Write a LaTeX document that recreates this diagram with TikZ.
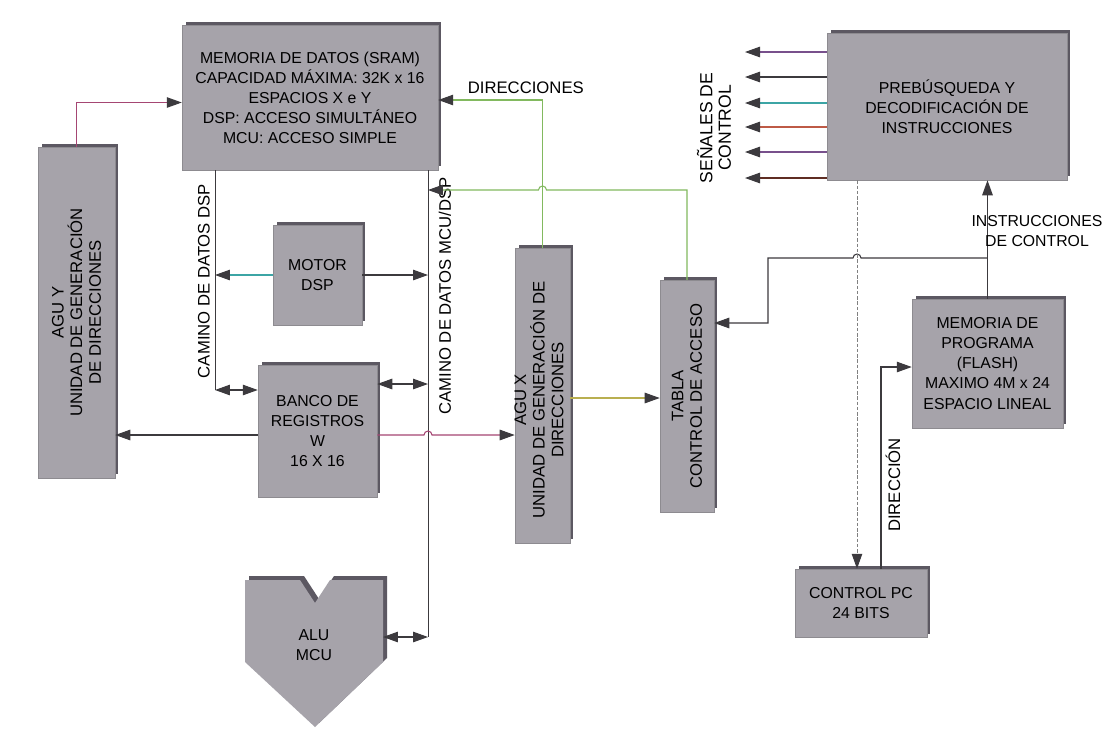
\documentclass[tikz,border=0pt]{standalone}
\usepackage{fontspec}
\setmainfont{Liberation Sans}
\usetikzlibrary{arrows.meta, positioning, calc, shadows}

\definecolor{blockgray}{RGB}{166,163,170}
\definecolor{blockedge}{RGB}{92,88,98}
\definecolor{linegray}{RGB}{60,58,62}
\definecolor{wirepink}{RGB}{165,70,115}
\definecolor{wiregreen}{RGB}{130,185,95}
\definecolor{wireteal}{RGB}{60,165,165}
\definecolor{wireolive}{RGB}{185,175,80}
\definecolor{wirepurple}{RGB}{120,80,140}
\definecolor{wirered}{RGB}{190,90,70}

\begin{document}
\begin{tikzpicture}[
    x=0.02cm, y=-0.02cm,
    block/.style={
        rectangle, fill=blockgray, draw=blockgray!85!black, line width=0.3pt,
        drop shadow={shadow xshift=0.07cm, shadow yshift=0.07cm, fill=blockedge, opacity=1},
        font=\fontsize{9}{11.4}\selectfont, align=center, inner sep=1pt
    },
    vtext/.style={rotate=90, font=\fontsize{9.5}{10.6}\selectfont, align=center},
    wlabel/.style={font=\fontsize{9.5}{11}\selectfont, align=center, text=black},
    arr/.style={-{Triangle[length=3mm,width=2.1mm,color=linegray]}, line width=0.6pt, linegray},
    darr/.style={{Triangle[length=3mm,width=2.1mm,color=linegray]}-{Triangle[length=3mm,width=2.1mm,color=linegray]}, line width=0.6pt, linegray},
    wire/.style={line width=0.5pt, linegray},
]

\fill[white] (0,0) rectangle (1107,728);
\useasboundingbox (0,0) rectangle (1107,728);

% ALU shape (drawn first)
\fill[blockedge, shift={(4,-4)}] (245,580) -- (300,580) -- (315,603) -- (330,580) -- (383,580) -- (383,662) -- (315,727) -- (245,662) -- cycle;
\fill[blockgray] (245,580) -- (300,580) -- (315,603) -- (330,580) -- (383,580) -- (383,662) -- (315,727) -- (245,662) -- cycle;
\node[font=\fontsize{9}{11.4}\selectfont, align=center] (alu) at (314,645) {ALU\\MCU};

% Blocks
\node[block, minimum width=5.12cm, minimum height=2.9cm] (sram) at (310,97.5)
    {MEMORIA DE DATOS (SRAM)\\CAPACIDAD MÁXIMA: 32K x 16\\ESPACIOS X e Y\\DSP: ACCESO SIMULTÁNEO\\MCU: ACCESO SIMPLE};
\node[block, minimum width=1.54cm, minimum height=6.62cm] (aguy) at (76.5,312.5) {};
\node[vtext] (aguyt) at (aguy) {AGU Y\\UNIDAD DE GENERACIÓN\\DE DIRECCIONES};
\node[block, minimum width=1.78cm, minimum height=2cm] (motor) at (317.5,275) {MOTOR\\DSP};
\node[block, minimum width=2.38cm, minimum height=2.64cm] (banco) at (317.5,431) {BANCO DE\\REGISTROS\\W\\16 X 16};
\node[block, minimum width=1.1cm, minimum height=5.9cm] (agux) at (542.5,395.5) {};
\node[vtext] (aguxt) at (539,400) {AGU X\\UNIDAD DE GENERACIÓN DE\\DIRECCIONES};
\node[block, minimum width=1.08cm, minimum height=4.64cm] (tabla) at (687,396) {};
\node[vtext] (tablat) at (tabla) {TABLA\\CONTROL DE ACCESO};
\node[block, minimum width=4.8cm, minimum height=2.94cm] (preb) at (947,106.5)
    {PREBÚSQUEDA Y\\DECODIFICACIÓN DE\\INSTRUCCIONES};
\node[block, minimum width=3.02cm, minimum height=2.58cm] (memprog) at (987.5,363.5)
    {MEMORIA DE\\PROGRAMA\\(FLASH)\\MAXIMO 4M x 24\\ESPACIO LINEAL};
\node[block, minimum width=2.64cm, minimum height=1.36cm] (ctrlpc) at (861,603) {CONTROL PC\\24 BITS};

% Data paths
\coordinate (dsptop) at (215,170);
\coordinate (dspbot) at (215,390);
\coordinate (mcutop) at (428,170);
\coordinate (mcubot) at (428,637);
\coordinate (alur) at (383,637);
\draw[wire] (dsptop) -- (dspbot);
\draw[wire] (mcutop) -- (mcubot);
\node[vtext] (dsplabel) at (204,281) {CAMINO DE DATOS DSP};
\node[vtext] (mculabel) at (445,296) {CAMINO DE DATOS MCU/DSP};

% SRAM side
\draw[arr, wirepink] (aguy.north) |- ([yshift=-0.1cm]sram.west);
\draw[arr, wiregreen] (agux.north) |- ([yshift=-0.05cm]sram.east)
    node[pos=0.58, above, wlabel] (dirlabel) {DIRECCIONES};
\coordinate (tk) at (tabla.north |- 0,190);
\draw[arr, wiregreen] (tabla.north) -- (tk) -- ($(agux.north |- tk)+(4,0)$)
    arc[start angle=0, end angle=180, radius=0.08cm] -- (mcutop |- tk);

% Motor and register bank
\draw[arr, wireteal] (motor.west) -- (motor.west -| dsptop);
\draw[arr] (motor.east) -- (motor.east -| mcutop);
\draw[darr] (dspbot) -- (dspbot -| banco.west);
\draw[darr] (banco.east |- 0,384) -- (mcutop |- 0,384);
\draw[arr] (banco.west |- 0,435) -- (aguy.east |- 0,435);
\draw[arr, wirepink] (banco.east |- 0,435) -- ($(mcutop |- 0,435)+(-4,0)$)
    arc[start angle=180, end angle=0, radius=0.08cm] -- (agux.west |- 0,435);
\draw[arr, wireolive] (agux.east |- 0,398) -- (tabla.west |- 0,398);
\draw[darr] (alur) -- (mcubot);

% Control signals
\foreach \i/\y/\c in {1/52/wirepurple, 2/77/linegray, 3/103/wireteal, 4/127/wirered, 5/152/wirepurple, 6/178/wirered!50!black} {
    \coordinate (sig\i) at (745,\y);
    \draw[arr, \c] (preb.west |- sig\i) -- (sig\i);
}
\node[vtext, font=\fontsize{10}{10.5}\selectfont] (siglabel) at (714,128) {SEÑALES DE\\CONTROL};

% Program memory and PC
\coordinate (pcin) at ([xshift=-0.08cm]ctrlpc.north);
\coordinate (pcout) at ([xshift=0.4cm]ctrlpc.north);
\coordinate (tj) at (memprog.north |- 0,258);
\draw[arr] (memprog.north) -- (memprog.north |- preb.south);
\node[wlabel, font=\fontsize{9}{11}\selectfont] (instlabel) at (1037,231) {INSTRUCCIONES\\DE CONTROL};
\draw[arr] (tj) -- ($(pcin |- tj)+(4,0)$)
    arc[start angle=0, end angle=180, radius=0.08cm] -- (768,258) |- (tabla.east |- 0,323);
\draw[arr, gray, dash pattern=on 2pt off 1pt, line width=0.5pt] (pcin |- preb.south) -- (pcin);
\draw[arr] (pcout) |- (memprog.west |- 0,367);
\node[vtext] (dirpc) at (893,485) {DIRECCIÓN};

\end{tikzpicture}
\end{document}
